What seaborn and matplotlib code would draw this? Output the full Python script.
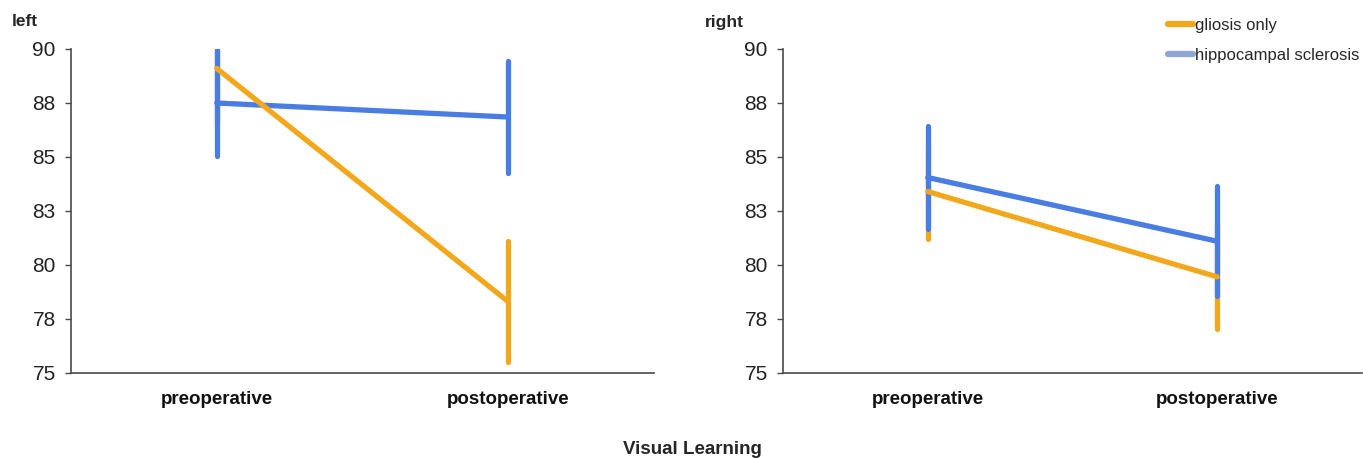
import numpy as np
import pandas as pd
import matplotlib
matplotlib.use("Agg")
import matplotlib.pyplot as plt
from matplotlib.lines import Line2D
import seaborn as sns

sns.set_theme(style="white")
plt.rcParams['font.family'] = ['Liberation Sans', 'DejaVu Sans']

# ---- data ----
phases = ["preoperative", "postoperative"]
groups = ["gliosis only", "hippocampal sclerosis"]
panels = ["left", "right"]

left_gliosis_mean = [89.1, 78.3]
left_gliosis_err = [2.6, 2.8]
left_hs_mean = [87.5, 86.85]
left_hs_err = [2.45, 2.6]

right_gliosis_mean = [83.4, 79.45]
right_gliosis_err = [2.2, 2.4]
right_hs_mean = [84.05, 81.1]
right_hs_err = [2.4, 2.55]

y_ticks = [75, 77.5, 80, 82.5, 85, 87.5, 90]
y_tick_labels = ["75", "78", "80", "83", "85", "88", "90"]
x_label = "Visual Learning"

rows = []
for panel, gm, ge, hm, he in [
    ("left", left_gliosis_mean, left_gliosis_err, left_hs_mean, left_hs_err),
    ("right", right_gliosis_mean, right_gliosis_err, right_hs_mean, right_hs_err),
]:
    for i, ph in enumerate(phases):
        rows.append(dict(panel=panel, phase=ph, group=groups[0], mean=gm[i], err=ge[i]))
        rows.append(dict(panel=panel, phase=ph, group=groups[1], mean=hm[i], err=he[i]))
df = pd.DataFrame(rows)

colors = {groups[0]: "#F2A81D", groups[1]: "#4A7DE2"}
legend_colors = {groups[0]: "#F2A81D", groups[1]: "#8DA6D6"}
line_z = {groups[0]: 3.2, groups[1]: 3.0}
err_z = {groups[0]: 2.0, groups[1]: 2.2}

W, H = 1363, 458
fig = plt.figure(figsize=(W / 100, H / 100), dpi=100)

axes_px = {"left": (71, 654), "right": (783, 1362)}
top_px, bot_px = 49, 373
spine_color = "#4a4a4a"
LW = 3.8

for panel in panels:
    x0, x1 = axes_px[panel]
    ax = fig.add_axes([x0 / W, (H - bot_px) / H, (x1 - x0) / W, (bot_px - top_px) / H])
    sub = df[df.panel == panel]
    xpos = np.arange(len(phases))
    for g in groups:
        s = sub[sub.group == g].set_index("phase").loc[phases]
        _, _, bars = ax.errorbar(xpos, s["mean"].values, yerr=s["err"].values, fmt="none",
                                 ecolor=colors[g], elinewidth=LW, capsize=0, zorder=err_z[g])
        for b in bars:
            b.set_capstyle("round")
        sns.lineplot(x=xpos, y=s["mean"].values, ax=ax, color=colors[g],
                     linewidth=LW, zorder=line_z[g], legend=False,
                     solid_capstyle="round")
    ax.set_xlim(-0.5, len(phases) - 0.5)
    ax.set_ylim(75, 90)
    ax.set_yticks(y_ticks)
    ax.set_yticklabels(y_tick_labels, fontsize=15, color="#222222")
    ax.set_xticks(xpos)
    ax.set_xticklabels(phases, fontsize=13.5, fontweight="bold", color="#111111")
    ax.set_xticks(np.arange(-0.5, len(phases), 1.0), minor=True)
    ax.tick_params(axis="x", which="major", length=0, pad=13)
    ax.tick_params(axis="x", which="minor", length=5, width=1.0, color=spine_color, direction="out")
    ax.tick_params(axis="y", which="major", length=4, width=1.0, color=spine_color,
                   direction="out", pad=7, left=True)
    ax.set_xlabel("")
    ax.set_ylabel("")
    for sp in ["top", "right"]:
        ax.spines[sp].set_visible(False)
    for sp in ["left", "bottom"]:
        ax.spines[sp].set_color(spine_color)
        ax.spines[sp].set_linewidth(1.2)
    ax.set_facecolor("none")

fig.text(12 / W, 1 - 21 / H, "left", fontsize=12.5, fontweight="bold", va="center", ha="left")
fig.text(705 / W, 1 - 23 / H, "right", fontsize=12.5, fontweight="bold", va="center", ha="left")
fig.text(692 / W, 1 - 449 / H, x_label, fontsize=13.5, fontweight="bold", va="center", ha="center")

handles = [Line2D([0], [0], color=legend_colors[g], lw=4.5) for g in groups]
leg = fig.legend(handles, groups, loc="upper left", bbox_to_anchor=(1168 / W, 1 - 18 / H),
                 frameon=False, fontsize=12, handlelength=1.5, handletextpad=0.1,
                 labelspacing=0.9, borderaxespad=0, borderpad=0)

fig.savefig("out.png", dpi=100)
